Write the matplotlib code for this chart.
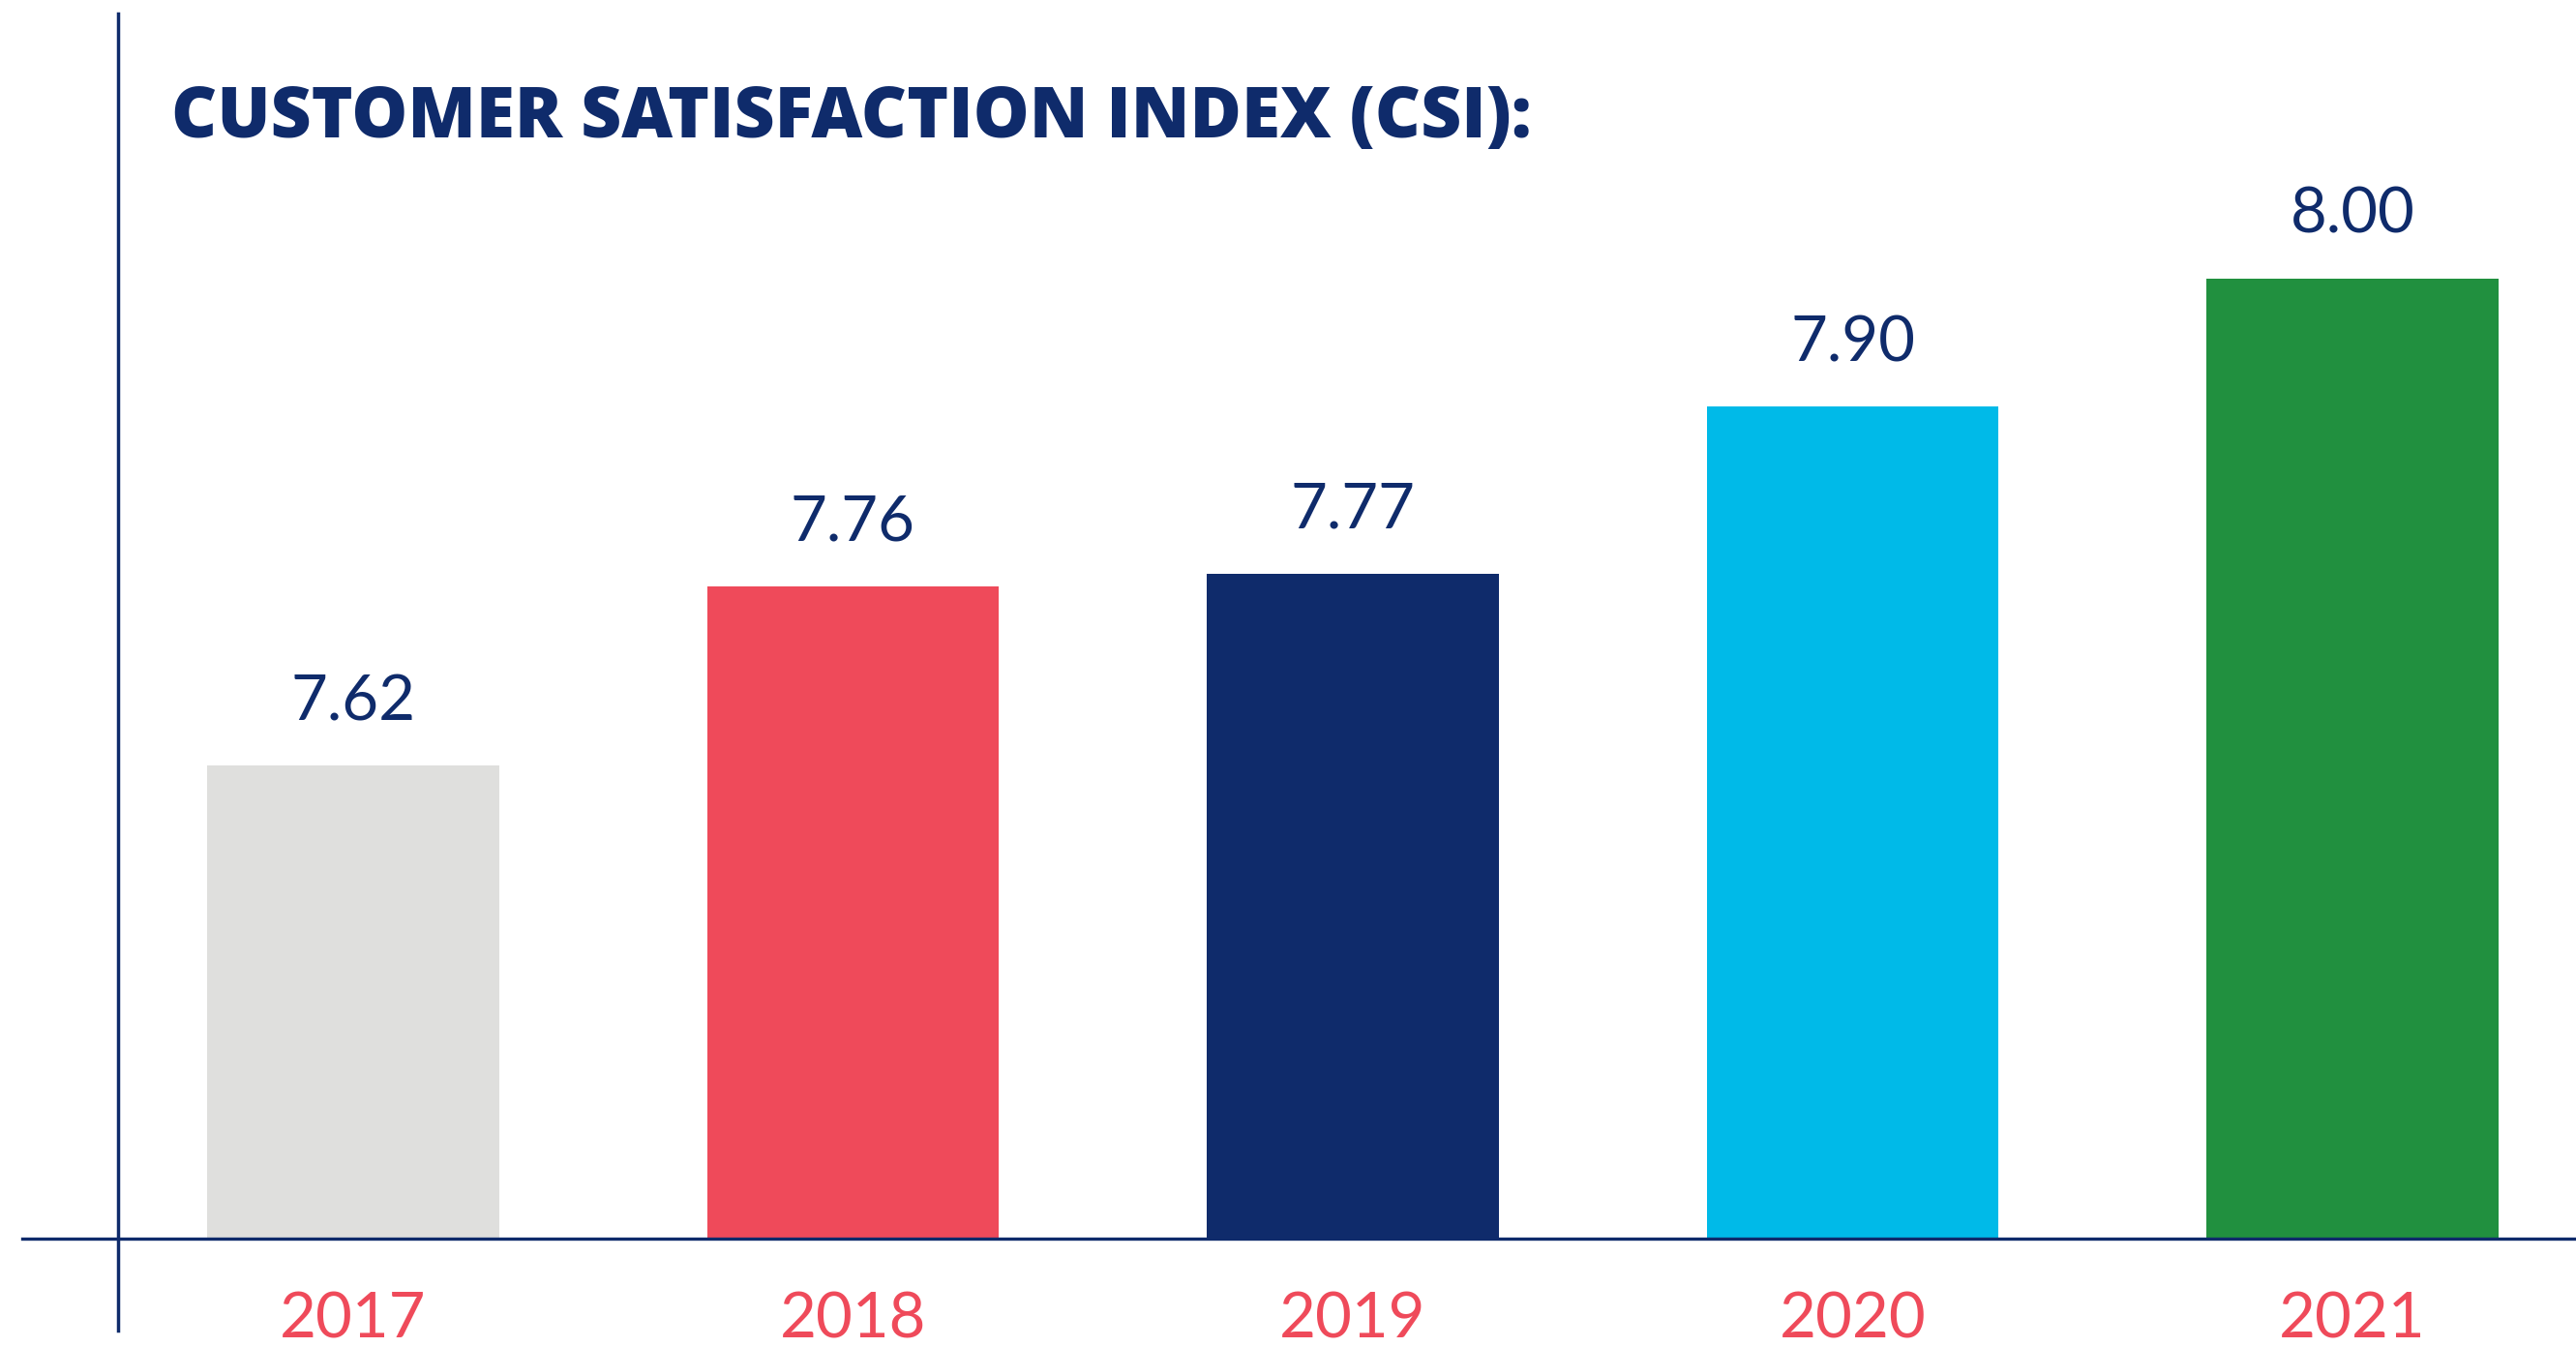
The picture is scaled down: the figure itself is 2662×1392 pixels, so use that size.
import numpy as np
import matplotlib.pyplot as plt
from matplotlib.lines import Line2D

years = ['2017', '2018', '2019', '2020', '2021']
csi = [7.62, 7.76, 7.77, 7.90, 8.00]
bar_colors = ['#DFDFDD', '#EF4A5A', '#0F2B6B', '#00BAE8', '#21903F']
navy = '#0F2B6B'
red = '#EF4A5A'

fig = plt.figure(figsize=(26.62, 13.92), dpi=100)
ax = fig.add_axes([0, 112 / 1392, 1, 1280 / 1392])

x = np.arange(len(years))
ax.bar(x, csi, width=0.583, color=bar_colors, zorder=1)
ax.set_xlim(-365 / 516.5, (2662 - 365) / 516.5)
ax.set_ylim(7.2515, 8.217)

for s in ['top', 'right', 'left']:
    ax.spines[s].set_visible(False)
ax.spines['bottom'].set_color(navy)
ax.spines['bottom'].set_linewidth(2.4)
ax.spines['bottom'].set_bounds((23 - 365) / 516.5, (2662 - 365) / 516.5)
ax.set_xticks([])
ax.set_yticks([])

for xi, v in zip(x, csi):
    ax.annotate(f'{v:.2f}', (xi, v), xytext=(0, 34), textcoords='offset points',
                ha='center', va='baseline', fontsize=47, color=navy,
                family='Lato', weight='normal')

for xi, yr in zip(x, years):
    ax.text(xi, -0.0797, yr, transform=ax.get_xaxis_transform(),
            ha='center', va='baseline', fontsize=47, color=red,
            family='Lato', weight='normal')

# vertical rule at the left
fig.add_artist(Line2D([122 / 2662, 122 / 2662], [1 - 1375 / 1392, 1 - 14 / 1392],
                      color=navy, lw=2.5))

fig.text(177 / 2662, 1 - 142 / 1392, 'CUSTOMER SATISFACTION INDEX (CSI):',
         ha='left', va='baseline', fontsize=52.5, color=navy,
         family='Open Sans', weight='heavy')

fig.savefig('out.png', dpi=100)
